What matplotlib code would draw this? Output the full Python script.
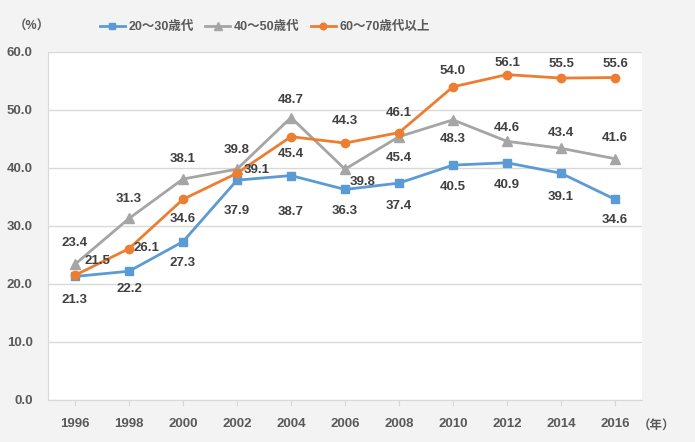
import matplotlib
matplotlib.use("Agg")
from matplotlib import pyplot as plt

plt.rcParams['font.family'] = ['Liberation Sans', 'Noto Sans CJK JP', 'DejaVu Sans']

years = ['1996', '1998', '2000', '2002', '2004', '2006', '2008', '2010', '2012', '2014', '2016']
names = ['20～30歳代', '40～50歳代', '60～70歳代以上']
age20_30 = [21.3, 22.2, 27.3, 37.9, 38.7, 36.3, 37.4, 40.5, 40.9, 39.1, 34.6]
age40_50 = [23.4, 31.3, 38.1, 39.8, 48.7, 39.8, 45.4, 48.3, 44.6, 43.4, 41.6]
age60_70 = [21.5, 26.1, 34.6, 39.1, 45.4, 44.3, 46.1, 54.0, 56.1, 55.5, 55.6]

# label offsets in pixels (dx, dy)
off_blue = [(0, -24), (0, -18), (0, -21), (0, -31), (0, -36), (0, -22),
            (0, -23), (0, -22), (0, -22), (0, -24), (0, -21)]
off_grey = [(0, 21), (0, 19), (0, 20), (0, 19), (0, 18), (18, -13),
            (0, -21), (0, -19), (0, 13), (0, 15), (0, 21)]
off_orange = [(22, 14), (17, 1), (0, -20), (20, 3), (0, -17), (0, 22),
              (0, 20), (0, 16), (0, 12), (0, 14), (0, 14)]

blue = '#5b9bd5'
grey = '#a5a5a5'
orange = '#ed7d31'
tcol = '#595959'

fig = plt.figure(figsize=(6.95, 4.42), dpi=100)
fig.patch.set_facecolor('#f3f3f3')
ax = fig.add_axes([48/695, 42/442, 594/695, 348/442])
ax.set_facecolor('white')

x = list(range(len(years)))
series = [(age20_30, blue, 's', 6, off_blue),
          (age40_50, grey, '^', 7, off_grey),
          (age60_70, orange, 'o', 6, off_orange)]
for (vals, col, mk, ms, offs), nm in zip(series, names):
    ax.plot(x, vals, color=col, lw=2, marker=mk, ms=ms, label=nm, zorder=3)
    for xi, v, o in zip(x, vals, offs):
        ax.annotate('%.1f' % v, (xi, v), xytext=o, textcoords='offset pixels',
                    ha='center', va='center', fontsize=9.5, fontweight='bold',
                    color='#404040', zorder=4)

ax.set_xlim(-0.5, 10.5)
ax.set_ylim(0, 60)
ax.set_yticks([0, 10, 20, 30, 40, 50, 60])
ax.set_yticklabels(['%.1f' % t for t in [0, 10, 20, 30, 40, 50, 60]])
ax.set_xticks(x)
ax.set_xticklabels(years)
ax.yaxis.grid(True, color='#d9d9d9', lw=1)
ax.set_axisbelow(True)
ax.tick_params(axis='y', length=0, pad=11, labelsize=9.5, labelcolor=tcol)
ax.tick_params(axis='x', length=4, color='#d9d9d9', pad=9, labelsize=9.5, labelcolor=tcol)
for lab in ax.get_xticklabels() + ax.get_yticklabels():
    lab.set_fontweight('bold')
for s in ['top', 'right']:
    ax.spines[s].set_visible(False)
ax.spines['left'].set_color('#d9d9d9')
ax.spines['bottom'].set_color('#d9d9d9')

fig.legend(loc='center', bbox_to_anchor=(265/695, 1 - 27/442), ncol=3, frameon=False,
           handlelength=2.0, handletextpad=0.3, columnspacing=0.9, markerscale=0.8,
           prop={'size': 9, 'weight': 'bold'}, labelcolor=tcol)

fig.text(32/695, 1 - 27/442, '（%）', ha='center', va='center', fontsize=9,
         fontweight='bold', color=tcol)
fig.text(657/695, 1 - 427/442, '（年）', ha='center', va='center', fontsize=9,
         fontweight='bold', color=tcol)

fig.savefig('out.png', dpi=100, facecolor=fig.get_facecolor())
